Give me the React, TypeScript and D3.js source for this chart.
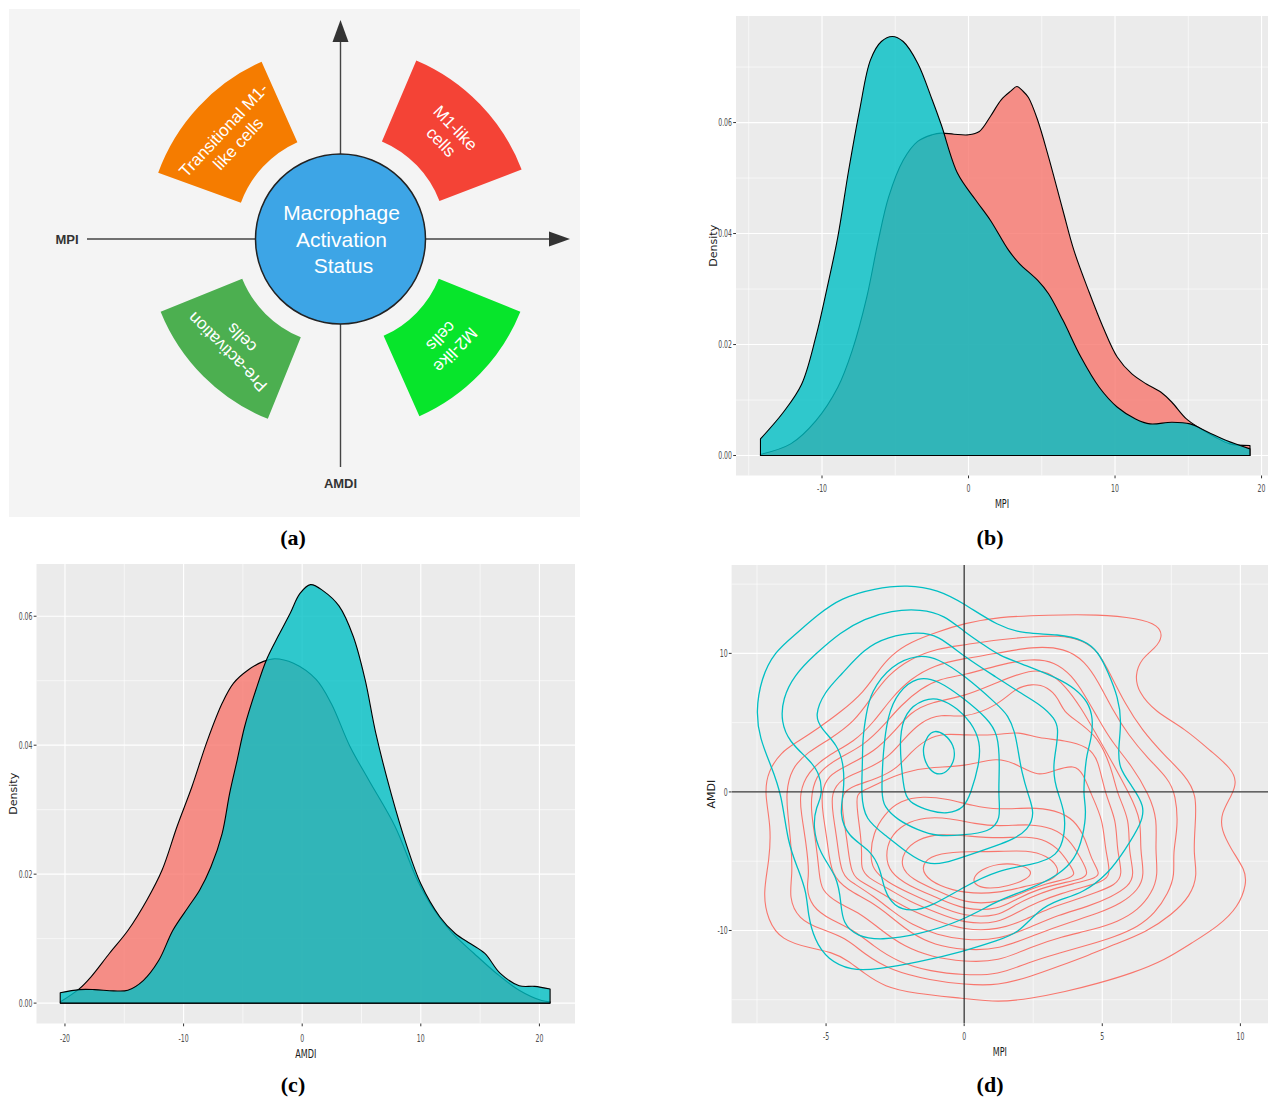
import React from "react";
import * as d3 from "d3";

type Pt = [number, number];

// ---------------- Panel (a): diagram ----------------
const sectorLabels: string[][] = [
  ["Transitional M1-", "like cells"],
  ["M1-like", "cells"],
  ["M2-like", "cells"],
  ["Pre-activation", "cells"],
];
const sectorStartDeg = [-160, -67, 22, 112];
const sectorEndDeg = [-114, -21, 66, 158];
const sectorColors = ["#F57C00", "#F44336", "#07E52B", "#4CAF50"];
const centerLines = ["Macrophage", "Activation", "Status"];
const axisNames = ["MPI", "AMDI"];

// ---------------- Panel (b): MPI density ----------------
const mpiCyanX = [-14.2, -12.64, -11.4, -10.41, -9.67, -8.92, -8.18, -7.43, -6.69, -5.95, -5.2, -4.46, -3.47, -2.48, -1.86, -0.74, 0.5, 1.49, 2.73, 3.47, 4.71, 5.45, 6.44, 7.68, 8.92, 10.16, 11.4, 12.39, 13.88, 15.12, 16.36, 17.6, 19.21];
const mpiCyanDensity = [0.003, 0.0078, 0.0128, 0.0215, 0.03, 0.0394, 0.0514, 0.0623, 0.0713, 0.0746, 0.0755, 0.0746, 0.0707, 0.0641, 0.0596, 0.0508, 0.046, 0.0424, 0.037, 0.0346, 0.0316, 0.0292, 0.0244, 0.0177, 0.0123, 0.0087, 0.0066, 0.0057, 0.006, 0.0057, 0.0042, 0.0027, 0.0012];
const mpiRedX = [-14.2, -12.14, -10.41, -8.92, -7.93, -6.94, -6.2, -5.45, -4.46, -3.47, -2.48, -1.86, -0.99, 0, 0.74, 1.49, 2.23, 2.9, 3.3, 3.7, 4.09, 4.71, 5.45, 6.44, 7.19, 8.18, 9.17, 10.16, 11.15, 12.14, 13.14, 13.88, 14.87, 15.86, 16.85, 17.84, 19.21];
const mpiRedDensity = [0.0002, 0.0021, 0.0063, 0.0123, 0.019, 0.0286, 0.0382, 0.0466, 0.0532, 0.0566, 0.0578, 0.0581, 0.0579, 0.0578, 0.0584, 0.0611, 0.0641, 0.0657, 0.0665, 0.0657, 0.0645, 0.0605, 0.0539, 0.0442, 0.037, 0.0298, 0.0232, 0.0177, 0.0147, 0.0129, 0.0114, 0.0096, 0.0066, 0.0048, 0.0033, 0.0021, 0.0018];

// ---------------- Panel (c): AMDI density ----------------
const amdiRedX = [-20.38, -18.8, -17.84, -16.26, -14.68, -13.09, -11.82, -10.55, -9.29, -8.02, -6.75, -5.8, -4.53, -3.26, -2.31, -0.73, 1.17, 2.44, 4.03, 5.61, 7.83, 9.73, 11.0, 12.58, 14.49, 16.39, 18.29, 20.19, 20.89];
const amdiRedDensity = [0.0002, 0.0022, 0.004, 0.0077, 0.0113, 0.016, 0.0206, 0.0274, 0.0336, 0.0406, 0.0465, 0.0496, 0.0517, 0.053, 0.0534, 0.0527, 0.0502, 0.0465, 0.0398, 0.0346, 0.0274, 0.019, 0.0148, 0.011, 0.0077, 0.0046, 0.002, 0.0004, 0.0002];
const amdiCyanX = [-20.4, -18.8, -17.5, -15.9, -14.7, -13.4, -12.1, -10.9, -9.6, -8.65, -7.7, -6.75, -6.12, -5.48, -4.85, -3.9, -3.0, -2.0, -1.0, -0.2, 0.7, 1.8, 3.1, 4.3, 5.3, 6.2, 7.5, 8.8, 10.0, 11.6, 12.9, 14.2, 15.4, 16.7, 18.3, 19.6, 20.9];
const amdiCyanDensity = [0.0016, 0.0021, 0.0021, 0.0019, 0.002, 0.0035, 0.0066, 0.0113, 0.0149, 0.0175, 0.0211, 0.0263, 0.0325, 0.0377, 0.0429, 0.0486, 0.0533, 0.057, 0.0605, 0.0635, 0.0649, 0.0639, 0.0616, 0.0569, 0.0502, 0.0419, 0.0325, 0.0245, 0.0185, 0.0134, 0.0108, 0.0092, 0.0077, 0.0046, 0.0027, 0.0026, 0.0022];

// ---------------- Panel (d): 2D density contours (MPI, AMDI) ----------------
const redContours: Pt[][] = [
  [[1.23,12.64],[3.04,12.77],[4.85,12.82],[6.3,12.53],[7.03,12.05],[7.2,11.2],[6.91,10.35],[6.42,9.64],[6.18,8.43],[6.3,7.23],[6.91,5.78],[7.99,4.58],[8.96,2.89],[9.68,1.69],[9.87,0.72],[9.7,-0.2],[9.3,-1.54],[9.3,-2.74],[9.68,-4.19],[10.17,-5.63],[10.23,-6.6],[9.93,-8.3],[9.2,-9.7],[8.24,-10.9],[7.27,-12.14],[6.06,-13.1],[4.85,-13.82],[3.65,-14.43],[2.44,-14.9],[1.23,-15.2],[0,-14.9],[-1.81,-14.55],[-2.89,-14.06],[-3.62,-13.1],[-4.22,-12.14],[-4.82,-11.54],[-5.54,-11.29],[-6.63,-10.69],[-7.11,-9.25],[-7.29,-7.32],[-7.05,-4.91],[-6.99,-2.5],[-7.23,-0.1],[-7.11,1.45],[-6.63,2.89],[-6.03,3.62],[-5.3,4.58],[-4.46,5.78],[-3.62,7.23],[-3.14,8.67],[-2.65,9.88],[-1.93,10.84],[-0.95,11.56],[0,12.17]],
  [[1.23,11.0],[2.44,11.2],[3.41,11.3],[4.25,11.0],[4.85,10.2],[5.34,8.3],[5.82,6.4],[6.42,4.5],[7.27,2.6],[8.0,1.2],[8.43,-0.2],[8.36,-2.5],[8.3,-4.5],[8.45,-6.0],[8.2,-7.5],[7.5,-8.9],[6.6,-10.1],[5.46,-11.0],[4.49,-11.8],[3.4,-12.6],[2.44,-13.3],[1.23,-14.0],[0,-13.9],[-1.2,-13.6],[-2.65,-12.9],[-3.62,-11.7],[-4.3,-10.5],[-5.2,-9.9],[-6.0,-9.2],[-6.35,-7.6],[-6.21,-6.0],[-6.27,-3.7],[-6.39,-1.5],[-6.45,-0.1],[-6.27,1.69],[-5.66,2.89],[-4.82,3.86],[-3.98,5.06],[-3.38,6.75],[-2.77,8.43],[-1.93,9.64],[-0.97,10.36],[0,10.6]],
  [[1.23,10.0],[2.44,10.5],[3.65,10.4],[4.37,9.43],[4.85,7.98],[5.34,6.05],[5.94,4.1],[6.66,2.4],[7.39,0.96],[7.66,-0.2],[7.75,-2.5],[7.55,-4.4],[7.63,-6.0],[7.39,-7.3],[6.91,-8.76],[6.3,-9.73],[5.46,-10.45],[4.49,-11.05],[3.4,-11.65],[2.32,-12.3],[1.23,-13.22],[0,-13.22],[-1.2,-12.98],[-2.42,-12.26],[-3.26,-11.17],[-3.98,-9.97],[-4.82,-9.25],[-5.54,-8.28],[-5.72,-6.84],[-5.6,-6.0],[-5.72,-3.71],[-5.9,-1.54],[-5.97,-0.1],[-5.66,1.45],[-4.94,2.65],[-3.98,3.62],[-3.26,5.06],[-2.65,6.75],[-1.93,8.19],[-1.08,9.16],[0,9.64]],
  [[1.23,9.16],[2.44,9.64],[3.28,9.4],[3.89,8.43],[4.37,6.99],[4.85,5.3],[5.34,3.62],[6.06,1.93],[6.7,-0.2],[7.0,-2.0],[6.91,-4.19],[7.03,-6.0],[6.79,-7.32],[6.3,-8.52],[5.58,-9.37],[4.61,-9.97],[3.52,-10.45],[2.44,-11.17],[1.23,-12.26],[0,-12.26],[-1.2,-11.9],[-2.17,-11.17],[-3.02,-9.97],[-3.74,-8.76],[-4.58,-8.04],[-5.18,-7.08],[-5.24,-6.0],[-5.36,-3.71],[-5.54,-1.54],[-5.54,-0.1],[-5.3,1.45],[-4.58,2.41],[-3.62,3.37],[-2.9,4.82],[-2.29,6.26],[-1.57,7.47],[-0.85,8.19],[0,8.43]],
  [[1.23,7.95],[2.44,8.86],[3.04,8.67],[3.65,7.71],[4.25,6.02],[4.73,4.34],[5.22,2.65],[6.0,-0.2],[6.42,-2.02],[6.36,-4.19],[6.54,-6.0],[6.3,-7.08],[5.7,-8.04],[4.85,-8.76],[3.89,-9.37],[2.68,-10.21],[1.23,-11.41],[0,-11.41],[-1.08,-11.05],[-1.93,-10.21],[-2.65,-9.01],[-3.38,-7.9],[-4.22,-7.08],[-4.82,-6.0],[-4.94,-3.71],[-5.12,-1.54],[-5.18,-0.1],[-4.94,1.21],[-4.22,1.93],[-3.26,2.89],[-2.54,4.34],[-1.93,5.78],[-1.2,6.5],[0,6.87]],
  [[1.23,6.26],[1.84,7.47],[2.44,7.83],[3.04,7.59],[3.41,6.75],[3.6,5.78],[4.13,5.06],[4.73,4.1],[5.1,2.89],[5.4,1.2],[5.55,-0.2],[6.0,-2.02],[5.94,-4.19],[6.18,-6.0],[5.94,-6.84],[5.34,-7.56],[4.49,-8.28],[3.4,-8.88],[2.44,-9.73],[1.23,-10.69],[0,-10.69],[-0.97,-10.33],[-1.9,-9.6],[-2.6,-8.6],[-3.3,-7.5],[-4.0,-6.6],[-4.46,-6.0],[-4.58,-3.71],[-4.76,-1.54],[-4.82,-0.1],[-4.46,0.96],[-3.62,1.57],[-2.77,2.41],[-2.17,3.86],[-1.57,5.06],[-0.85,5.66],[0,5.3]],
  [[1.23,4.1],[1.96,4.38],[2.68,3.86],[3.65,3.74],[4.49,3.25],[4.85,2.41],[5.1,-0.2],[5.52,-2.02],[5.52,-4.19],[5.76,-6.0],[5.46,-6.72],[4.85,-7.2],[4.01,-7.8],[3.04,-8.4],[2.2,-9.25],[1.23,-9.97],[0,-9.97],[-1.0,-9.3],[-2.0,-8.5],[-3.0,-7.3],[-3.7,-6.5],[-4.1,-6.0],[-4.22,-3.71],[-4.4,-1.54],[-4.46,-0.1],[-3.98,0.48],[-3.14,0.96],[-2.42,1.69],[-1.93,2.89],[-1.33,3.86],[-0.72,4.22],[0,4.1]],
  [[1.23,2.55],[1.96,1.93],[2.68,1.09],[3.28,1.57],[4.0,1.98],[4.31,1.33],[4.6,-0.2],[5.03,-2.02],[5.1,-4.19],[5.34,-6.0],[4.98,-6.48],[4.37,-6.84],[3.52,-7.32],[2.68,-7.92],[1.96,-8.64],[1.23,-9.49],[0,-9.49],[-1.0,-8.7],[-2.0,-7.9],[-2.8,-6.9],[-3.5,-6.2],[-3.74,-5.5],[-3.7,-4.5],[-3.74,-3.23],[-3.86,-1.54],[-3.92,-0.1],[-3.62,0.1],[-3.02,0.72],[-2.17,1.45],[-1.2,1.81],[0,1.81]],
  [[1.23,-1.3],[2.4,-1.1],[3.3,-1.3],[4.0,-2.0],[4.4,-3.4],[4.6,-4.9],[4.98,-6.0],[4.6,-6.3],[4.0,-6.6],[3.2,-7.0],[2.4,-7.6],[1.8,-8.2],[1.23,-9.0],[0,-9.0],[-1.0,-8.2],[-2.0,-7.3],[-2.8,-6.5],[-3.32,-5.6],[-3.4,-4.5],[-3.3,-3.0],[-2.9,-1.6],[-2.3,-0.6],[-1.5,-0.3],[-0.6,-0.5],[0.3,-1.0]],
  [[1.23,-2.5],[2.4,-2.3],[3.2,-2.6],[3.8,-3.4],[4.2,-4.7],[4.55,-6.0],[4.2,-6.3],[3.5,-6.6],[2.7,-7.0],[1.9,-7.7],[1.23,-8.52],[0,-8.52],[-1.0,-7.6],[-2.0,-6.8],[-2.7,-5.8],[-2.85,-4.6],[-2.7,-3.3],[-2.2,-2.3],[-1.4,-1.8],[-0.5,-1.9],[0.4,-2.3]],
  [[1.23,-3.35],[2.3,-3.2],[3.0,-3.5],[3.5,-4.3],[3.8,-5.2],[4.07,-6.0],[3.7,-6.3],[3.0,-6.6],[2.3,-7.1],[1.23,-8.04],[0,-8.04],[-1.0,-7.1],[-1.9,-6.3],[-2.3,-5.4],[-2.2,-4.3],[-1.7,-3.4],[-0.9,-3.0],[0.2,-3.2]],
  [[1.23,-4.31],[2.3,-4.2],[3.0,-4.6],[3.4,-5.4],[3.4,-6.0],[3.0,-6.5],[2.2,-6.8],[1.23,-7.32],[0,-7.32],[-0.9,-6.8],[-1.5,-6.0],[-1.5,-5.0],[-0.9,-4.4],[0.2,-4.3]],
  [[0.28,-6.3],[0.6,-5.6],[1.23,-5.15],[2.0,-5.2],[2.5,-5.7],[2.3,-6.3],[1.6,-6.8],[0.9,-7.0],[0.45,-6.8]],
];

const cyanContours: Pt[][] = [
  [[-2.04,14.96],[-0.95,14.6],[0,13.6],[1.23,11.96],[2.2,11.4],[3.4,11.4],[4.37,10.96],[4.86,10.1],[5.2,8.7],[5.58,6.8],[5.7,5.06],[5.58,3.16],[5.6,1.7],[6.06,0.48],[6.55,-1.06],[6.42,-2.27],[5.82,-4.2],[5.22,-5.9],[4.3,-7.3],[3.4,-7.8],[2.7,-8.5],[1.96,-10.2],[1.23,-10.7],[0,-11.5],[-1.68,-12.3],[-3.13,-12.8],[-4.1,-12.9],[-4.94,-12.1],[-5.42,-10.7],[-5.66,-8.8],[-5.7,-7.3],[-6.0,-5.6],[-6.39,-3.7],[-6.6,-0.2],[-7.0,1.93],[-7.4,3.86],[-7.54,5.8],[-7.35,8.2],[-6.87,10.1],[-6.15,11.3],[-5.3,12.8],[-4.46,14.0],[-3.25,14.7]],
  [[-1.56,13.2],[-0.72,12.77],[0,11.56],[0.72,10.6],[1.23,9.88],[2.2,9.16],[3.41,8.2],[4.01,7.47],[4.49,6.5],[4.67,5.3],[4.61,3.86],[4.43,2.65],[4.37,1.45],[4.31,-0.24],[4.43,-1.3],[4.31,-3.2],[4.01,-4.9],[3.41,-6.0],[2.44,-6.96],[1.23,-7.8],[0,-9.25],[-1.69,-10.33],[-3.02,-10.7],[-3.86,-10.45],[-4.4,-9.49],[-4.46,-8.04],[-4.58,-6.12],[-5.24,-4.43],[-5.48,-2.5],[-5.36,-1.06],[-5.12,-0.24],[-5.24,1.45],[-5.66,2.41],[-6.33,3.62],[-6.63,5.06],[-6.57,6.74],[-6.15,8.43],[-5.42,9.9],[-4.46,11.56],[-3.62,12.5],[-2.64,13.1]],
  [[-1.68,11.56],[-0.95,11.32],[0,9.76],[1.23,8.2],[1.96,7.23],[2.8,6.26],[3.28,5.3],[3.41,4.58],[3.35,3.37],[3.22,1.93],[3.28,0.72],[3.4,-0.1],[3.65,-1.54],[3.65,-2.98],[3.41,-4.67],[2.44,-5.27],[1.23,-5.63],[0,-6.84],[-1.2,-8.28],[-1.93,-8.64],[-2.54,-8.28],[-2.9,-7.08],[-3.02,-5.63],[-3.38,-4.19],[-4.22,-3.23],[-4.52,-1.54],[-4.35,0.0],[-4.35,1.93],[-4.58,3.37],[-5.18,4.58],[-5.42,5.5],[-5.06,7.23],[-4.46,8.43],[-3.62,10.35],[-2.77,11.2]],
  [[-1.68,9.93],[-0.95,9.64],[0,8.43],[1.23,6.26],[1.59,5.54],[1.84,4.34],[1.96,2.89],[2.08,1.45],[2.32,-0.24],[2.56,-1.54],[2.32,-2.74],[1.72,-3.47],[1.23,-3.83],[0,-4.67],[-0.72,-5.15],[-1.33,-5.27],[-2.05,-4.43],[-2.77,-3.23],[-3.61,-2.02],[-3.73,-0.1],[-3.68,1.9],[-3.68,3.86],[-3.55,5.6],[-3.38,7.23],[-2.65,9.16]],
  [[-1.68,8.36],[-0.95,8.07],[0,6.74],[0.84,5.3],[1.23,4.2],[1.29,1.93],[1.23,-0.24],[1.34,-2.0],[0.9,-2.9],[0,-3.1],[-0.97,-3.23],[-1.69,-2.74],[-2.42,-2.02],[-2.9,-1.06],[-3.0,-0.24],[-2.94,2.89],[-2.77,5.54],[-2.4,7.23]],
  [[-1.44,6.75],[-0.85,6.75],[-0.24,6.02],[0.24,5.06],[0.6,3.62],[0.54,1.93],[0.24,-0.09],[0,-1.18],[-0.6,-1.59],[-1.2,-1.42],[-1.93,-0.82],[-2.16,-0.24],[-2.28,1.93],[-2.34,3.86],[-2.16,5.78]],
  [[-1.5,3.25],[-1.32,4.1],[-1.08,4.46],[-0.72,4.22],[-0.36,3.37],[-0.33,2.41],[-0.54,1.57],[-0.89,1.16],[-1.26,1.57],[-1.46,2.41]],
];

const panelLetters = ["a", "b", "c", "d"];

// ---------------- styling ----------------
const RED = "#F8766D";
const CYAN = "#00BFC4";
const TICK_FONT = "'DejaVu Sans', 'Liberation Sans', sans-serif";
const SQUEEZE = 0.62;

const zip = (xs: number[], ys: number[]): Pt[] => xs.map((x, i) => [x, ys[i]] as Pt);

type Lin = d3.ScaleLinear<number, number>;

function GGPanel(props: {
  id: string;
  xs: Lin;
  ys: Lin;
  xMajor: number[];
  xMinor: number[];
  yMajor: number[];
  yMinor: number[];
  xFmt: (v: number) => string;
  yFmt: (v: number) => string;
  xTitle: string;
  yTitle: string;
  xLabelBase: number;
  xTitleBase: number;
  yTitleX: number;
  children?: React.ReactNode;
}) {
  const { id, xs, ys, xMajor, xMinor, yMajor, yMinor, xFmt, yFmt } = props;
  const [x0, x1] = xs.range();
  const [y1, y0] = ys.range();
  return (
    <g>
      <defs>
        <clipPath id={id}>
          <rect x={x0} y={y0} width={x1 - x0} height={y1 - y0} />
        </clipPath>
      </defs>
      <rect x={x0} y={y0} width={x1 - x0} height={y1 - y0} fill="#EBEBEB" />
      {xMinor.map((v) => (
        <line key={"xm" + v} x1={xs(v)} x2={xs(v)} y1={y0} y2={y1} stroke="#fff" strokeWidth={0.6} />
      ))}
      {yMinor.map((v) => (
        <line key={"ym" + v} x1={x0} x2={x1} y1={ys(v)} y2={ys(v)} stroke="#fff" strokeWidth={0.6} />
      ))}
      {xMajor.map((v) => (
        <line key={"xM" + v} x1={xs(v)} x2={xs(v)} y1={y0} y2={y1} stroke="#fff" strokeWidth={1.15} />
      ))}
      {yMajor.map((v) => (
        <line key={"yM" + v} x1={x0} x2={x1} y1={ys(v)} y2={ys(v)} stroke="#fff" strokeWidth={1.15} />
      ))}
      <g clipPath={`url(#${id})`}>{props.children}</g>
      {xMajor.map((v) => (
        <line key={"xt" + v} x1={xs(v)} x2={xs(v)} y1={y1} y2={y1 + 2.8} stroke="#333" strokeWidth={1} />
      ))}
      {yMajor.map((v) => (
        <line key={"yt" + v} x1={x0 - 2.8} x2={x0} y1={ys(v)} y2={ys(v)} stroke="#333" strokeWidth={1} />
      ))}
      {xMajor.map((v) => (
        <text
          key={"xl" + v}
          transform={`translate(${xs(v)},${props.xLabelBase}) scale(${SQUEEZE},1)`}
          textAnchor="middle"
          fontFamily={TICK_FONT}
          fontSize={10}
          fill="#4D4D4D"
        >
          {xFmt(v)}
        </text>
      ))}
      {yMajor.map((v) => (
        <text
          key={"yl" + v}
          transform={`translate(${x0 - 4},${ys(v)}) scale(${SQUEEZE},1)`}
          textAnchor="end"
          dy="0.36em"
          fontFamily={TICK_FONT}
          fontSize={10}
          fill="#4D4D4D"
        >
          {yFmt(v)}
        </text>
      ))}
      <text
        transform={`translate(${(x0 + x1) / 2},${props.xTitleBase}) scale(${SQUEEZE},1)`}
        textAnchor="middle"
        fontFamily={TICK_FONT}
        fontSize={13}
        fill="#1a1a1a"
      >
        {props.xTitle}
      </text>
      <text
        transform={`translate(${props.yTitleX},${(y0 + y1) / 2}) rotate(-90)`}
        textAnchor="middle"
        dy="0.36em"
        fontFamily={TICK_FONT}
        fontSize={11}
        fill="#1a1a1a"
      >
        {props.yTitle}
      </text>
    </g>
  );
}

function DensityAreas({ xs, ys, series }: { xs: Lin; ys: Lin; series: { pts: Pt[]; color: string }[] }) {
  const area = d3
    .area<Pt>()
    .x((d) => xs(d[0]))
    .y0(ys(0))
    .y1((d) => ys(d[1]))
    .curve(d3.curveCatmullRom.alpha(0.5));
  return (
    <g>
      {series.map((s, i) => (
        <path
          key={i}
          d={area(s.pts) || ""}
          fill={s.color}
          fillOpacity={0.8}
          stroke="#000"
          strokeWidth={1.1}
          strokeLinejoin="round"
        />
      ))}
    </g>
  );
}

function PanelA() {
  const cx = 340.5;
  const cy = 239;
  const rIn = 106;
  const rOut = 194;
  const rad = Math.PI / 180;
  const arc = d3.arc<any>();
  return (
    <g>
      <rect x={9} y={9} width={571} height={508} fill="#F4F4F4" />
      <line x1={87} x2={552} y1={cy} y2={cy} stroke="#444" strokeWidth={1.4} />
      <path d={`M${549},${cy - 7.5} L${570},${cy} L${549},${cy + 7.5} Z`} fill="#333" />
      <line x1={cx} x2={cx} y1={40} y2={467} stroke="#444" strokeWidth={1.4} />
      <path d={`M${cx - 8},${42} L${cx},${20} L${cx + 8},${42} Z`} fill="#333" />
      <text x={67} y={244} textAnchor="middle" fontFamily="'Liberation Sans', Arial, sans-serif" fontWeight="bold" fontSize={13} fill="#333">
        {axisNames[0]}
      </text>
      <text x={cx} y={488} textAnchor="middle" fontFamily="'Liberation Sans', Arial, sans-serif" fontWeight="bold" fontSize={13} fill="#333">
        {axisNames[1]}
      </text>
      {sectorLabels.map((lines, i) => {
        const a0 = sectorStartDeg[i];
        const a1 = sectorEndDeg[i];
        const d = arc({ innerRadius: rIn, outerRadius: rOut, startAngle: (a0 + 90) * rad, endAngle: (a1 + 90) * rad }) || "";
        const mid = (a0 + a1) / 2;
        const rm = (rIn + rOut) / 2;
        const tx = cx + rm * Math.cos(mid * rad);
        const ty = cy + rm * Math.sin(mid * rad);
        return (
          <g key={i}>
            <path d={d} transform={`translate(${cx},${cy})`} fill={sectorColors[i]} />
            <g transform={`translate(${tx},${ty}) rotate(${mid + 90})`}>
              {lines.map((t, j) => (
                <text
                  key={j}
                  x={0}
                  y={(j - (lines.length - 1) / 2) * 20}
                  dy="0.35em"
                  textAnchor="middle"
                  fontFamily="'Liberation Sans', Arial, sans-serif"
                  fontSize={17}
                  fill="#fff"
                >
                  {t}
                </text>
              ))}
            </g>
          </g>
        );
      })}
      <circle cx={cx} cy={cy} r={85} fill="#3DA5E6" stroke="#222" strokeWidth={1.5} />
      {centerLines.map((t, i) => (
        <text
          key={t}
          x={i === 2 ? cx + 3 : cx + 1}
          y={220 + i * 26.5}
          textAnchor="middle"
          fontFamily="'Liberation Sans', Arial, sans-serif"
          fontSize={21}
          fill="#fff"
        >
          {t}
        </text>
      ))}
    </g>
  );
}

function PanelB() {
  const xs = d3.scaleLinear().domain([-15.87, 20.44]).range([736, 1268]);
  const ys = d3.scaleLinear().domain([-0.0036, 0.0792]).range([475.5, 16]);
  return (
    <GGPanel
      id="clipB"
      xs={xs}
      ys={ys}
      xMajor={[-10, 0, 10, 20]}
      xMinor={[-15, -5, 5, 15]}
      yMajor={[0, 0.02, 0.04, 0.06]}
      yMinor={[0.01, 0.03, 0.05, 0.07]}
      xFmt={(v) => String(v)}
      yFmt={(v) => v.toFixed(2)}
      xTitle="MPI"
      yTitle="Density"
      xLabelBase={492}
      xTitleBase={508}
      yTitleX={713}
    >
      <DensityAreas
        xs={xs}
        ys={ys}
        series={[
          { pts: zip(mpiRedX, mpiRedDensity), color: RED },
          { pts: zip(mpiCyanX, mpiCyanDensity), color: CYAN },
        ]}
      />
    </GGPanel>
  );
}

function PanelC() {
  const xs = d3.scaleLinear().domain([-22.4, 23.0]).range([36.5, 575]);
  const ys = d3.scaleLinear().domain([-0.00316, 0.0681]).range([1023.5, 564]);
  return (
    <GGPanel
      id="clipC"
      xs={xs}
      ys={ys}
      xMajor={[-20, -10, 0, 10, 20]}
      xMinor={[-15, -5, 5, 15]}
      yMajor={[0, 0.02, 0.04, 0.06]}
      yMinor={[0.01, 0.03, 0.05]}
      xFmt={(v) => String(v)}
      yFmt={(v) => v.toFixed(2)}
      xTitle="AMDI"
      yTitle="Density"
      xLabelBase={1041.5}
      xTitleBase={1058}
      yTitleX={13}
    >
      <DensityAreas
        xs={xs}
        ys={ys}
        series={[
          { pts: zip(amdiRedX, amdiRedDensity), color: RED },
          { pts: zip(amdiCyanX, amdiCyanDensity), color: CYAN },
        ]}
      />
    </GGPanel>
  );
}

function PanelD() {
  const xs = d3.scaleLinear().domain([-8.42, 11.0]).range([731.6, 1268]);
  const ys = d3.scaleLinear().domain([-16.7, 16.38]).range([1023.3, 565]);
  const line = d3
    .line<Pt>()
    .x((d) => xs(d[0]))
    .y((d) => ys(d[1]))
    .curve(d3.curveBasisClosed);
  const [x0, x1] = xs.range();
  const [y1, y0] = ys.range();
  return (
    <GGPanel
      id="clipD"
      xs={xs}
      ys={ys}
      xMajor={[-5, 0, 5, 10]}
      xMinor={[-7.5, -2.5, 2.5, 7.5]}
      yMajor={[-10, 0, 10]}
      yMinor={[-15, -5, 5, 15]}
      xFmt={(v) => String(v)}
      yFmt={(v) => String(v)}
      xTitle="MPI"
      yTitle="AMDI"
      xLabelBase={1040}
      xTitleBase={1056}
      yTitleX={711}
    >
      {redContours.map((c, i) => (
        <path key={"r" + i} d={line(c) || ""} fill="none" stroke={RED} strokeWidth={1.1} />
      ))}
      {cyanContours.map((c, i) => (
        <path key={"c" + i} d={line(c) || ""} fill="none" stroke={CYAN} strokeWidth={1.3} />
      ))}
      <line x1={xs(0)} x2={xs(0)} y1={y0} y2={y1} stroke="#333" strokeWidth={1.3} />
      <line x1={x0} x2={x1} y1={ys(0)} y2={ys(0)} stroke="#333" strokeWidth={1.3} />
    </GGPanel>
  );
}

function PanelLabels() {
  const pos: Pt[] = [
    [293, 545],
    [990, 545],
    [293, 1092],
    [990, 1092],
  ];
  return (
    <g>
      {panelLetters.map((l, i) => (
        <text
          key={l}
          x={pos[i][0]}
          y={pos[i][1]}
          textAnchor="middle"
          fontFamily="'Liberation Serif', 'DejaVu Serif', serif"
          fontWeight="bold"
          fontSize={22}
          fill="#000"
        >
          ({l})
        </text>
      ))}
    </g>
  );
}

export default function App() {
  return (
    <svg
      width={1268}
      height={1102}
      viewBox="0 0 1268 1102"
      style={{ position: "absolute", left: 0, top: 0, background: "#fff" }}
    >
      <rect x={0} y={0} width={1268} height={1102} fill="#fff" />
      <PanelA />
      <PanelB />
      <PanelC />
      <PanelD />
      <PanelLabels />
    </svg>
  );
}
